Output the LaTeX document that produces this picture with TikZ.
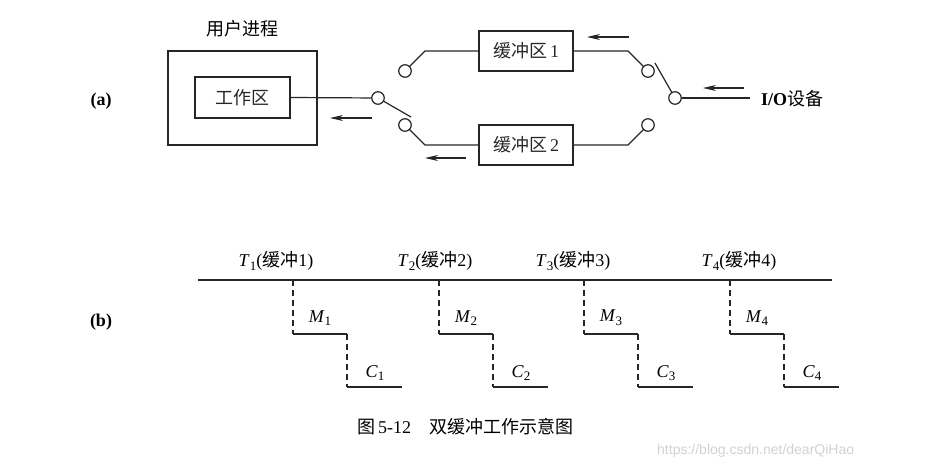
\documentclass[tikz,border=0pt]{standalone}
\usepackage{fontspec}
\setmainfont{Liberation Serif}
\newfontfamily\cjk{Noto Sans CJK SC}
\newfontfamily\wmfont{Liberation Sans}
\usetikzlibrary{arrows.meta}
\newcommand\mysub[1]{\raisebox{-0.45ex}{\fontsize{13}{14}\selectfont #1}}
\tikzset{
  ln/.style={line width=1.2pt, black!85},
  boxnode/.style={draw, line width=1.2pt, black!85, inner sep=0pt},
  sw/.style={circle, draw, line width=1.2pt, black!85, minimum size=12.5pt, inner sep=0pt},
  flow/.style={line width=1.1pt, black!85, -{Stealth[length=13pt,width=6pt,inset=4pt]}},
  lbl/.style={font=\fontsize{18}{20}\selectfont, inner sep=0pt},
  dsh/.style={line width=1.2pt, black!85, dash pattern=on 6pt off 4pt},
}
\begin{document}
\begin{tikzpicture}[x=1pt,y=-1pt]
\useasboundingbox (0,0) rectangle (925,468);
% ---------------- (a) ----------------
\node[lbl, font=\fontsize{18}{20}\selectfont\bfseries] (la) at (101,101) {(a)};
\node[lbl] (up) at (242,29) {\cjk 用户进程};
\node[boxnode, minimum width=149pt, minimum height=94pt] (outer) at (242.5,98) {};
\node[boxnode, minimum width=95pt, minimum height=41pt, lbl] (wk) at (242.5,97.5) {\cjk 工作区};
\node[boxnode, minimum width=94pt, minimum height=40pt, lbl] (b1) at (526,51) {{\cjk 缓冲区}\,1};
\node[boxnode, minimum width=94pt, minimum height=40pt, lbl] (b2) at (526,145) {{\cjk 缓冲区}\,2};
\node[sw] (cL) at (378,98) {};
\node[sw] (cLup) at (405,71) {};
\node[sw] (cLlow) at (405,125) {};
\node[sw] (cR) at (675,98) {};
\node[sw] (cRup) at (648,71) {};
\node[sw] (cRlow) at (648,125) {};
\node[lbl, anchor=west] (io) at (761,99) {\textbf{I/O}{\cjk 设备}};
\coordinate (kL1) at (425,51);
\coordinate (kL2) at (425,145);
\coordinate (kR1) at (628,51);
\coordinate (kR2) at (628,145);
\coordinate (tipL) at (411,117);
\coordinate (tipR) at (655,63);
\coordinate (ioEnd) at (750,98);
\draw[ln] (wk.east) -- (cL);
\draw[ln] (cL) -- (tipL);
\draw[ln] (cLup) -- (kL1) -- (b1.west);
\draw[ln] (cLlow) -- (kL2) -- (b2.west);
\draw[ln] (b1.east) -- (kR1) -- (cRup);
\draw[ln] (b2.east) -- (kR2) -- (cRlow);
\draw[ln] (tipR) -- (cR);
\draw[ln] (cR) -- (ioEnd);
% flow arrows
\coordinate (a1s) at (372,118); \coordinate (a1e) at (330,118);
\coordinate (a2s) at (466,158); \coordinate (a2e) at (425,158);
\coordinate (a3s) at (629,37);  \coordinate (a3e) at (587,37);
\coordinate (a4s) at (744,88);  \coordinate (a4e) at (703,88);
\draw[flow] (a1s) -- (a1e);
\draw[flow] (a2s) -- (a2e);
\draw[flow] (a3s) -- (a3e);
\draw[flow] (a4s) -- (a4e);
% ---------------- (b) ----------------
\node[lbl, font=\fontsize{18}{20}\selectfont\bfseries] (lb) at (101,322) {(b)};
\coordinate (axL) at (198,280);
\coordinate (axR) at (832,280);
\draw[ln] (axL) -- (axR);
\node[lbl] (t1) at (276,261) {\textit{T}\mysub{1}({\cjk 缓冲}1)};
\node[lbl] (t2) at (435,261) {\textit{T}\mysub{2}({\cjk 缓冲}2)};
\node[lbl] (t3) at (573,261) {\textit{T}\mysub{3}({\cjk 缓冲}3)};
\node[lbl] (t4) at (739,261) {\textit{T}\mysub{4}({\cjk 缓冲}4)};
\foreach \x/\i in {293/1,439/2,584/3,730/4}{
  \coordinate (p\i a) at (\x,280);
  \coordinate (p\i b) at (\x,334);
  \coordinate (p\i c) at (\x+54,334);
  \coordinate (p\i d) at (\x+54,387);
  \coordinate (p\i e) at (\x+109,387);
  \draw[dsh] (p\i a) -- (p\i b);
  \draw[ln] (p\i b) -- (p\i c);
  \draw[dsh] (p\i c) -- (p\i d);
  \draw[ln] (p\i d) -- (p\i e);
  \node[lbl] (m\i) at (\x+27,318) {\textit{M}\mysub{\i}};
  \node[lbl] (c\i) at (\x+82,373) {\textit{C}\mysub{\i}};
}
% caption
\node[lbl, anchor=west, font=\fontsize{18}{20}\selectfont] (cap) at (357,427) {{\cjk 图}\,5-12\quad{\cjk 双缓冲工作示意图}};
\node[anchor=west, inner sep=0pt, text=black!18, font=\wmfont\fontsize{14}{16}\selectfont] (wm) at (657,451) {https://blog.csdn.net/dearQiHao};
\end{tikzpicture}
\end{document}
